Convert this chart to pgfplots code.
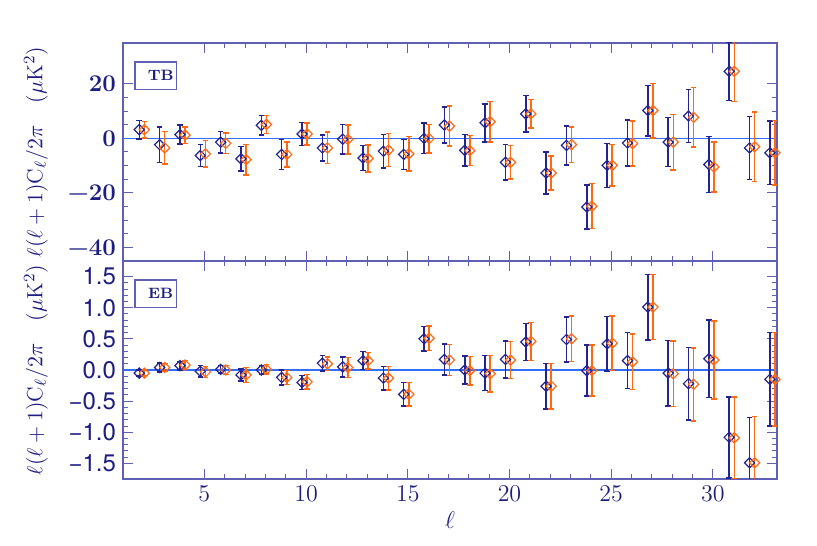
\documentclass[border=0pt]{standalone}
\usepackage{fontspec}
\setsansfont{TeX Gyre Heros}
\usepackage{pgfplots}
\usepackage{pgfplotstable}
\pgfplotsset{compat=1.18}

\definecolor{navy}{RGB}{30,30,130}
\definecolor{axcol}{RGB}{95,95,180}
\definecolor{dblue}{RGB}{35,35,145}
\definecolor{dorange}{RGB}{255,105,20}
\definecolor{zline}{RGB}{50,110,250}

% TB spectra: l, value, error
\pgfplotstableread{
l y e
2 3.2 3.35
3 -2.3 6.5
4 1.4 3.55
5 -6.3 4.05
6 -1.4 3.9
7 -7.5 4.55
8 4.8 3.65
9 -5.9 5.5
10 1.6 4.15
11 -3.5 4.8
12 -0.3 5.35
13 -7.2 4.6
14 -4.7 6.1
15 -5.9 5.5
16 0.0 5.6
17 4.9 6.55
18 -4.4 5.8
19 5.7 6.95
20 -8.8 6.55
21 9.0 6.7
22 -12.7 7.65
23 -2.6 7.1
24 -25.2 8.1
25 -9.9 8.05
26 -1.7 8.4
27 10.2 9.25
28 -1.4 9.0
29 8.2 9.75
30 -9.6 10.2
31 24.6 10.7
32 -3.5 11.6
33 -5.3 11.7
}\tbblue

\pgfplotstableread{
l y e
2 3.2 3.0
3 -3.5 5.95
4 1.2 3.05
5 -5.7 4.85
6 -1.8 3.8
7 -7.8 5.55
8 5.1 3.25
9 -5.9 4.6
10 1.6 4.05
11 -3.5 5.8
12 -0.4 5.3
13 -7.4 4.9
14 -4.3 6.1
15 -5.7 6.3
16 -0.1 5.25
17 4.5 7.35
18 -4.5 5.5
19 6.1 7.35
20 -8.8 6.2
21 9.0 5.25
22 -12.7 6.25
23 -2.3 6.5
24 -24.9 8.25
25 -9.9 7.65
26 -1.9 8.3
27 10.2 10.0
28 -1.4 10.2
29 7.7 10.9
30 -10.5 9.1
31 24.6 11.0
32 -3.1 12.7
33 -5.3 11.9
}\tborange

% EB spectra
\pgfplotstableread{
l y e
2 -0.05 0.05
3 0.04 0.07
4 0.07 0.07
5 -0.02 0.095
6 0.01 0.06
7 -0.08 0.10
8 0.00 0.07
9 -0.12 0.12
10 -0.20 0.11
11 0.11 0.125
12 0.05 0.16
13 0.15 0.145
14 -0.13 0.19
15 -0.39 0.19
16 0.50 0.195
17 0.17 0.25
18 0.00 0.225
19 -0.05 0.28
20 0.17 0.295
21 0.45 0.30
22 -0.26 0.365
23 0.49 0.36
24 -0.01 0.41
25 0.42 0.44
26 0.15 0.45
27 1.01 0.525
28 -0.05 0.525
29 -0.22 0.585
30 0.18 0.625
31 -1.08 0.65
32 -1.49 0.73
33 -0.15 0.75
}\ebblue

\pgfplotstableread{
l y e
2 -0.05 0.05
3 0.04 0.065
4 0.08 0.07
5 -0.03 0.09
6 0.00 0.07
7 -0.08 0.12
8 0.01 0.075
9 -0.12 0.11
10 -0.19 0.115
11 0.10 0.11
12 0.04 0.16
13 0.15 0.135
14 -0.13 0.19
15 -0.39 0.19
16 0.51 0.195
17 0.16 0.25
18 -0.01 0.23
19 -0.06 0.29
20 0.16 0.30
21 0.46 0.305
22 -0.26 0.365
23 0.50 0.365
24 -0.01 0.41
25 0.43 0.44
26 0.13 0.445
27 1.01 0.52
28 -0.06 0.525
29 -0.23 0.585
30 0.16 0.625
31 -1.09 0.66
32 -1.49 0.74
33 -0.15 0.75
}\eborange

\pgfplotsset{
  panel/.style={
    scale only axis, width=327pt, height=109pt,
    xmin=1, xmax=33.15,
    xtick={5,10,...,30}, minor x tick num=4,
    tick align=inside,
    axis line style={axcol, line width=0.6pt},
    tick style={axcol, line width=0.5pt},
    major tick length=5pt, minor tick length=2.5pt,
    tick label style={font=\fontsize{12}{14}\selectfont, text=navy},
    ylabel={$\ell(\ell+1)\mathrm{C}_\ell/2\pi\quad(\mu\mathrm{K}^2)$},
    ylabel style={at={(axis description cs:-0.133,0.5)}, anchor=center,
      text=navy, font=\fontsize{11}{13}\selectfont},
  },
  bser/.style={only marks, mark=square, mark size=1.8pt, dblue,
    mark options={line width=0.6pt, rotate=45},
    error bars/.cd, y dir=both, y explicit, error mark=-,
    error bar style={line width=0.75pt, dblue},
    error mark options={line width=0.75pt, mark size=1.4pt, rotate=90, dblue}},
  oser/.style={only marks, mark=square, mark size=1.8pt, dorange,
    mark options={line width=0.6pt, rotate=45},
    error bars/.cd, y dir=both, y explicit, error mark=-,
    error bar style={line width=0.75pt, dorange},
    error mark options={line width=0.75pt, mark size=1.4pt, rotate=90, dorange}},
}

\begin{document}
\begin{tikzpicture}
% top: TB
\begin{axis}[panel, at={(0,109pt)}, anchor=south west,
    ymin=-45, ymax=35, ytick={-40,-20,0,20}, minor y tick num=3,
    yticklabels={\textbf{−40},\textbf{−20},\textbf{0},\textbf{20}},
    xticklabels={}]
\addplot[zline, line width=0.8pt, forget plot] coordinates {(0,0) (34,0)};
\addplot[bser] table[x expr=\thisrow{l}-0.2, y=y, y error=e] {\tbblue};
\addplot[oser] table[x expr=\thisrow{l}+0.05, y=y, y error=e] {\tborange};
\node[draw=axcol, line width=0.6pt, anchor=north west, minimum width=20.7pt,
  minimum height=13.8pt, inner sep=0pt] at (rel axis cs:0.0173,0.9156) {};
\node[text=navy, font=\bfseries\fontsize{7.5}{9}\selectfont] at (rel axis cs:0.0576,0.852) {TB};
\end{axis}
% bottom: EB
\begin{axis}[panel, at={(0,0)}, anchor=south west,
    ymin=-1.75, ymax=1.75, ytick={-1.5,-1,...,1.5}, minor y tick num=4,
    yticklabels={−1.5,−1.0,−0.5,0.0,0.5,1.0,1.5},
    yticklabel style={font=\sffamily\fontsize{12}{14}\selectfont},
    xlabel={$\ell$},
    xlabel style={at={(axis description cs:0.5,0)}, anchor=center, yshift=-20.5pt,
      text=navy, font=\fontsize{13}{15}\selectfont}]
\addplot[zline, line width=0.8pt, forget plot] coordinates {(0,0) (34,0)};
\addplot[bser] table[x expr=\thisrow{l}-0.2, y=y, y error=e] {\ebblue};
\addplot[oser] table[x expr=\thisrow{l}+0.05, y=y, y error=e] {\eborange};
\node[draw=axcol, line width=0.6pt, anchor=north west, minimum width=20.7pt,
  minimum height=13.8pt, inner sep=0pt] at (rel axis cs:0.0173,0.9156) {};
\node[text=navy, font=\bfseries\fontsize{7.5}{9}\selectfont] at (rel axis cs:0.0576,0.852) {EB};
\end{axis}
\pgfresetboundingbox
\path (-61.5pt,-33pt) rectangle (347pt,239.5pt);
\end{tikzpicture}
\end{document}
